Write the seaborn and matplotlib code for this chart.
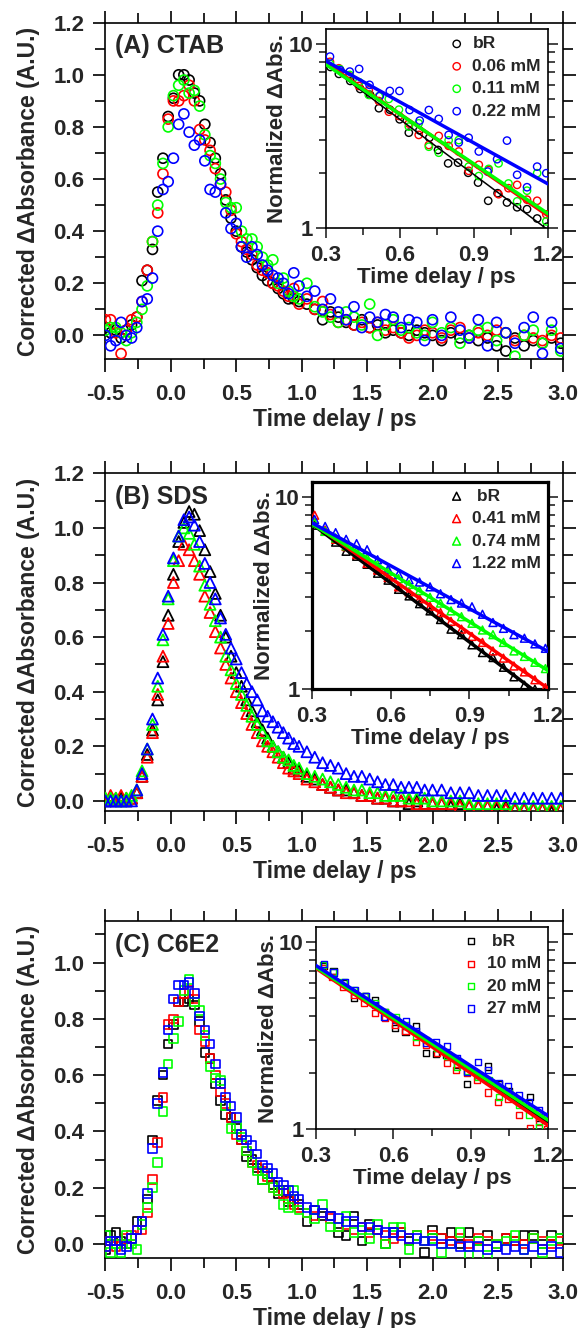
import numpy as np
import pandas as pd
import seaborn as sns
import matplotlib.pyplot as plt
from matplotlib.ticker import MultipleLocator, FixedLocator, NullFormatter

sns.set_style('ticks')
plt.rcParams['font.family'] = ['Liberation Sans', 'DejaVu Sans']
plt.rcParams['font.weight'] = 'bold'
plt.rcParams['axes.labelweight'] = 'bold'
plt.rcParams['axes.unicode_minus'] = False

colors = ['#000000', '#ff0000', '#00ff00', '#0000ff']

# time axis shared by the three main panels (ps)
t_delay = [-0.50, -0.46, -0.42, -0.38, -0.34, -0.30, -0.26, -0.22, -0.18, -0.14,
           -0.10, -0.06, -0.02, 0.02, 0.06, 0.10, 0.14, 0.18, 0.22, 0.26,
           0.30, 0.34, 0.38, 0.42, 0.46, 0.50, 0.54, 0.58, 0.62, 0.66,
           0.70, 0.74, 0.78, 0.82, 0.86, 0.90, 0.94, 0.98, 1.04, 1.10,
           1.16, 1.22, 1.28, 1.34, 1.40, 1.46, 1.52, 1.58, 1.64, 1.70,
           1.76, 1.82, 1.88, 1.94, 2.00, 2.07, 2.14, 2.21, 2.28, 2.35,
           2.42, 2.49, 2.56, 2.63, 2.70, 2.77, 2.84, 2.91, 2.98]

# (A) CTAB
ctab_labels = ['bR', '0.06 mM', '0.11 mM', '0.22 mM']
ctab_bR = [0.03, 0.01, 0.02, -0.01, 0.02, 0.04, 0.07, 0.21, 0.25, 0.33,
           0.55, 0.68, 0.84, 0.91, 1.00, 1.00, 0.98, 0.93, 0.90, 0.81,
           0.74, 0.68, 0.62, 0.52, 0.45, 0.40, 0.34, 0.32, 0.29, 0.26,
           0.23, 0.21, 0.20, 0.18, 0.16, 0.14, 0.14, 0.13, 0.12, 0.10,
           0.06, 0.09, 0.07, 0.05, 0.04, 0.06, 0.03, 0.04, 0.01, 0.02,
           0.01, 0.00, 0.02, 0.01, 0.00, -0.02, 0.01, -0.01, 0.00, -0.02,
           -0.01, -0.04, -0.06, -0.01, -0.04, -0.02, -0.03, -0.01, -0.03]
ctab_006 = [0.06, 0.06, 0.01, -0.07, 0.02, 0.06, 0.07, 0.13, 0.25, 0.36,
            0.47, 0.62, 0.83, 0.90, 0.90, 0.92, 0.96, 0.90, 0.79, 0.75,
            0.71, 0.64, 0.58, 0.55, 0.48, 0.39, 0.36, 0.33, 0.31, 0.27,
            0.25, 0.24, 0.20, 0.19, 0.17, 0.15, 0.18, 0.12, 0.14, 0.10,
            0.13, 0.08, 0.05, 0.06, 0.04, 0.05, 0.03, 0.05, 0.02, 0.03,
            0.01, -0.01, 0.00, 0.02, 0.01, -0.01, 0.02, 0.03, -0.01, 0.01,
            0.00, 0.02, 0.01, -0.02, 0.00, -0.01, -0.02, 0.00, -0.01]
ctab_011 = [0.02, 0.03, 0.03, 0.01, -0.02, 0.01, 0.05, 0.10, 0.19, 0.36,
            0.50, 0.66, 0.80, 0.92, 0.96, 0.98, 0.93, 0.94, 0.88, 0.77,
            0.69, 0.66, 0.60, 0.51, 0.49, 0.49, 0.40, 0.37, 0.37, 0.34,
            0.30, 0.27, 0.29, 0.20, 0.22, 0.17, 0.15, 0.14, 0.20, 0.11,
            0.09, 0.07, 0.05, 0.09, 0.07, 0.04, 0.12, 0.00, 0.04, 0.06,
            0.02, 0.03, 0.01, 0.00, 0.05, 0.01, 0.03, -0.03, 0.00, 0.02,
            0.03, -0.02, 0.01, -0.08, 0.00, 0.02, -0.03, 0.02, -0.06]
ctab_022 = [0.00, -0.04, -0.02, 0.05, 0.00, -0.01, 0.03, 0.13, 0.14, 0.22,
            0.40, 0.56, 0.59, 0.68, 0.81, 0.85, 0.78, 0.73, 0.75, 0.67,
            0.56, 0.55, 0.58, 0.47, 0.41, 0.43, 0.34, 0.30, 0.34, 0.31,
            0.27, 0.25, 0.23, 0.22, 0.20, 0.16, 0.24, 0.19, 0.15, 0.17,
            0.10, 0.14, 0.09, 0.06, 0.11, 0.03, 0.07, 0.05, 0.08, 0.07,
            0.03, 0.06, 0.05, -0.02, 0.06, 0.00, 0.07, 0.02, -0.01, 0.06,
            -0.04, 0.05, 0.01, -0.03, 0.03, 0.07, -0.07, 0.05, -0.05]

# (A) inset, log scale
ctab_in_t_bR = [0.32, 0.354, 0.40, 0.44, 0.48, 0.516, 0.56, 0.60, 0.637, 0.68, 0.72, 0.755,
                0.796, 0.836, 0.877, 0.917, 0.958, 0.996, 1.034, 1.075, 1.115, 1.156, 1.196]
ctab_in_bR = [7.5, 6.88, 6.3, 5.7, 5.3, 4.48, 4.4, 3.9, 3.30, 3.4, 3.1, 2.66,
              2.25, 2.27, 2.0, 1.77, 1.41, 1.55, 1.38, 1.3, 1.27, 1.13, 1.02]
ctab_in_t_006 = [0.318, 0.354, 0.395, 0.435, 0.475, 0.516, 0.556, 0.597, 0.637, 0.677, 0.718, 0.758,
                 0.798, 0.839, 0.879, 0.92, 0.96, 1.0, 1.04, 1.075, 1.115, 1.156, 1.193]
ctab_in_006 = [8.0, 7.38, 6.7, 5.92, 5.6, 4.9, 4.29, 4.07, 3.7, 3.21, 2.83, 3.17,
               2.8, 2.61, 2.05, 2.21, 2.07, 1.53, 1.65, 1.72, 1.43, 1.41, 1.19]
ctab_in_t_011 = [0.318, 0.358, 0.398, 0.436, 0.475, 0.516, 0.556, 0.597, 0.637, 0.677, 0.718, 0.758,
                 0.798, 0.839, 0.879, 0.92, 0.96, 1.0, 1.04, 1.075, 1.115, 1.156, 1.193]
ctab_in_011 = [7.8, 7.3, 6.79, 6.2, 5.29, 5.2, 5.03, 4.4, 3.56, 3.71, 2.77, 2.57,
               3.0, 3.01, 2.16, 1.92, 2.1, 2.25, 1.75, 1.40, 1.6, 1.99, 1.09]
ctab_in_t_022 = [0.318, 0.36, 0.398, 0.436, 0.478, 0.52, 0.56, 0.599, 0.64, 0.681, 0.718, 0.758,
                 0.798, 0.839, 0.879, 0.92, 0.956, 0.994, 1.034, 1.075, 1.115, 1.156, 1.193]
ctab_in_022 = [8.54, 7.2, 7.08, 7.32, 6.0, 5.23, 5.56, 5.56, 4.38, 3.84, 4.38, 3.92,
               3.21, 2.92, 3.1, 2.61, 2.03, 2.37, 2.99, 1.95, 1.67, 2.16, 1.99]
fit_t = [0.3, 1.2]
ctab_fit_start = [7.8, 7.9, 7.76, 8.1]
ctab_fit_end = [0.98, 1.17, 1.2, 1.74]

# (B) SDS
sds_labels = [' bR', '0.41 mM', '0.74 mM', '1.22 mM']
sds_bR = [0.00, 0.01, 0.00, 0.01, 0.00, 0.01, 0.03, 0.09, 0.17, 0.26,
          0.37, 0.51, 0.68, 0.83, 0.95, 1.02, 1.06, 1.05, 0.99, 0.92,
          0.84, 0.76, 0.68, 0.60, 0.53, 0.47, 0.42, 0.37, 0.33, 0.29,
          0.26, 0.23, 0.20, 0.18, 0.16, 0.14, 0.12, 0.11, 0.09, 0.08,
          0.06, 0.05, 0.04, 0.04, 0.03, 0.02, 0.02, 0.01, 0.01, 0.00,
          0.00, -0.01, 0.00, -0.01, -0.01, -0.01, -0.02, -0.01, -0.02, -0.02,
          -0.02, -0.03, -0.02, -0.03, -0.03, -0.03, -0.03, -0.04, -0.03]
sds_041 = [0.01, 0.02, 0.01, 0.02, 0.01, 0.01, 0.03, 0.09, 0.16, 0.25,
           0.39, 0.53, 0.65, 0.80, 0.88, 0.94, 0.92, 0.88, 0.83, 0.75,
           0.69, 0.62, 0.56, 0.50, 0.45, 0.40, 0.36, 0.32, 0.28, 0.25,
           0.22, 0.20, 0.18, 0.16, 0.14, 0.12, 0.11, 0.10, 0.08, 0.07,
           0.06, 0.05, 0.04, 0.03, 0.03, 0.02, 0.02, 0.01, 0.01, 0.00,
           0.00, 0.00, -0.01, -0.01, -0.01, -0.01, -0.01, -0.02, -0.02, -0.02,
           -0.02, -0.02, -0.03, -0.03, -0.03, -0.03, -0.03, -0.03, -0.03]
sds_074 = [0.01, 0.01, 0.01, 0.00, 0.01, 0.02, 0.04, 0.11, 0.19, 0.28,
           0.42, 0.59, 0.74, 0.88, 0.97, 1.00, 0.98, 0.94, 0.86, 0.79,
           0.72, 0.66, 0.60, 0.53, 0.48, 0.43, 0.39, 0.35, 0.31, 0.28,
           0.25, 0.22, 0.20, 0.18, 0.16, 0.15, 0.13, 0.12, 0.10, 0.09,
           0.08, 0.07, 0.06, 0.05, 0.04, 0.04, 0.03, 0.03, 0.02, 0.02,
           0.02, 0.01, 0.01, 0.01, 0.00, 0.00, 0.00, 0.00, -0.01, -0.01,
           -0.01, -0.01, -0.01, -0.02, -0.02, -0.02, -0.02, -0.02, -0.02]
sds_122 = [0.00, 0.00, 0.00, 0.00, 0.00, 0.00, 0.04, 0.10, 0.19, 0.30,
           0.45, 0.61, 0.75, 0.89, 0.97, 1.03, 1.04, 1.01, 0.95, 0.87,
           0.80, 0.74, 0.67, 0.61, 0.56, 0.52, 0.47, 0.43, 0.40, 0.37,
           0.33, 0.31, 0.29, 0.27, 0.25, 0.23, 0.21, 0.20, 0.18, 0.16,
           0.14, 0.13, 0.12, 0.10, 0.09, 0.09, 0.08, 0.07, 0.06, 0.06,
           0.05, 0.05, 0.05, 0.04, 0.04, 0.04, 0.03, 0.03, 0.03, 0.02,
           0.02, 0.02, 0.02, 0.01, 0.01, 0.01, 0.01, 0.01, 0.01]

# (B) inset
sds_in_t = [0.31, 0.35, 0.39, 0.43, 0.47, 0.51, 0.55, 0.59, 0.63, 0.67, 0.71, 0.75,
            0.79, 0.83, 0.87, 0.91, 0.95, 0.99, 1.03, 1.07, 1.11, 1.15, 1.19]
sds_in_bR = [7.1, 6.6, 5.8, 5.2, 4.9, 4.45, 4.0, 3.68, 3.3, 3.05, 2.78, 2.55,
             2.3, 2.05, 1.92, 1.70, 1.55, 1.46, 1.30, 1.16, 1.05, 1.0, 0.9]
sds_in_041 = [8.0, 6.7, 6.0, 5.5, 5.0, 4.5, 4.15, 3.8, 3.4, 3.2, 2.95, 2.7,
              2.5, 2.25, 2.05, 1.88, 1.75, 1.58, 1.45, 1.32, 1.23, 1.12, 1.02]
sds_in_074 = [7.3, 6.6, 6.1, 5.55, 5.2, 4.8, 4.45, 4.1, 3.75, 3.5, 3.25, 3.0,
              2.8, 2.55, 2.38, 2.2, 2.03, 1.92, 1.75, 1.58, 1.48, 1.38, 1.28]
sds_in_122 = [7.6, 7.0, 6.5, 6.0, 5.7, 5.3, 4.7, 4.2, 3.95, 3.7, 3.6, 3.4,
              3.13, 2.92, 2.8, 2.68, 2.45, 2.22, 2.07, 1.92, 1.84, 1.72, 1.63]
sds_fit_start = [7.2, 7.3, 7.2, 7.3]
sds_fit_end = [0.87, 1.01, 1.25, 1.57]

# (C) C6E2
c6e2_labels = [' bR', '10 mM', '20 mM', '27 mM']
c6e2_bR = [-0.02, 0.03, 0.04, 0.01, 0.00, 0.02, 0.08, 0.08, 0.16, 0.37,
           0.51, 0.60, 0.71, 0.78, 0.86, 0.86, 0.87, 0.85, 0.79, 0.68,
           0.66, 0.57, 0.51, 0.46, 0.45, 0.41, 0.37, 0.31, 0.30, 0.27,
           0.23, 0.25, 0.21, 0.18, 0.19, 0.15, 0.16, 0.14, 0.08, 0.12,
           0.10, 0.10, 0.04, 0.03, 0.10, 0.01, 0.07, 0.05, 0.00, 0.04,
           0.04, 0.01, 0.03, -0.03, 0.05, 0.02, 0.04, 0.00, 0.04, 0.01,
           0.03, -0.01, 0.02, 0.01, 0.03, 0.03, 0.00, 0.03, 0.02]
c6e2_10 = [-0.01, 0.01, -0.01, 0.00, 0.02, 0.03, 0.05, 0.05, 0.11, 0.23,
           0.36, 0.52, 0.78, 0.80, 0.86, 0.89, 0.90, 0.87, 0.76, 0.72,
           0.66, 0.60, 0.54, 0.50, 0.45, 0.39, 0.37, 0.33, 0.29, 0.28,
           0.26, 0.24, 0.20, 0.19, 0.18, 0.16, 0.14, 0.13, 0.11, 0.10,
           0.11, 0.09, 0.06, 0.07, 0.05, 0.06, 0.04, 0.05, 0.03, 0.02,
           0.04, 0.02, 0.03, 0.01, 0.03, 0.02, 0.01, 0.02, 0.00, 0.02,
           0.01, 0.00, 0.02, 0.01, 0.00, 0.02, 0.01, 0.00, 0.01]
c6e2_20 = [0.03, -0.03, 0.00, -0.03, 0.03, 0.00, -0.02, 0.07, 0.13, 0.20,
           0.29, 0.47, 0.64, 0.73, 0.79, 0.90, 0.94, 0.86, 0.83, 0.74,
           0.63, 0.59, 0.58, 0.49, 0.41, 0.42, 0.38, 0.33, 0.29, 0.26,
           0.23, 0.25, 0.20, 0.19, 0.14, 0.13, 0.19, 0.12, 0.11, 0.09,
           0.14, 0.06, 0.06, 0.10, 0.04, 0.05, 0.02, 0.07, 0.00, 0.06,
           0.06, -0.02, 0.03, 0.01, 0.02, -0.03, 0.00, 0.04, -0.04, 0.01,
           -0.04, 0.00, 0.01, 0.03, -0.02, 0.02, -0.03, 0.01, 0.02]
c6e2_27 = [-0.01, 0.01, 0.01, -0.02, -0.01, 0.02, 0.05, 0.08, 0.18, 0.34,
           0.50, 0.61, 0.76, 0.87, 0.92, 0.92, 0.93, 0.89, 0.81, 0.76,
           0.71, 0.64, 0.57, 0.52, 0.49, 0.45, 0.39, 0.37, 0.35, 0.32,
           0.28, 0.27, 0.25, 0.22, 0.21, 0.19, 0.17, 0.16, 0.13, 0.12,
           0.11, 0.10, 0.09, 0.08, 0.08, 0.06, 0.06, 0.05, 0.04, 0.04,
           0.03, 0.02, 0.02, 0.01, 0.01, 0.00, 0.00, -0.01, -0.01, -0.01,
           -0.02, -0.01, -0.02, -0.01, -0.02, -0.01, -0.02, -0.01, -0.03]

# (C) inset
c6e2_in_t_bR = [0.33, 0.368, 0.41, 0.448, 0.49, 0.528, 0.568, 0.606, 0.647, 0.687, 0.728,
                0.764, 0.806, 0.847, 0.887, 0.928, 0.967, 1.008, 1.048, 1.087, 1.129, 1.166]
c6e2_in_bR = [7.4, 7.0, 6.0, 5.03, 5.1, 4.89, 4.2, 3.45, 3.3, 3.53, 2.56,
              2.52, 2.5, 2.2, 1.74, 1.95, 2.16, 1.75, 1.6, 1.4, 1.48, 1.15]
c6e2_in_t_10 = [0.326, 0.364, 0.407, 0.447, 0.487, 0.528, 0.568, 0.606, 0.647, 0.687, 0.728, 0.768,
                0.807, 0.844, 0.885, 0.925, 0.967, 1.005, 1.046, 1.087, 1.129, 1.164, 1.196]
c6e2_in_10 = [7.2, 6.45, 5.71, 5.2, 4.69, 4.18, 3.9, 3.6, 3.35, 2.93, 2.8, 2.55,
              2.25, 2.07, 2.0, 1.83, 1.57, 1.4, 1.45, 1.19, 1.02, 1.1, 1.0]
c6e2_in_t_20 = [0.326, 0.366, 0.407, 0.448, 0.49, 0.528, 0.568, 0.609, 0.648, 0.687, 0.728,
                0.768, 0.808, 0.848, 0.888, 0.928, 0.971, 1.009, 1.048, 1.087, 1.125, 1.164]
c6e2_in_20 = [7.5, 6.9, 6.1, 5.5, 5.1, 4.7, 4.2, 3.95, 3.6, 3.12, 3.0,
              2.7, 2.45, 2.16, 2.05, 1.9, 1.83, 1.49, 1.55, 1.35, 1.19, 1.03]
c6e2_in_t_27 = [0.33, 0.368, 0.412, 0.451, 0.493, 0.528, 0.564, 0.609, 0.648, 0.687, 0.726, 0.764,
                0.809, 0.848, 0.887, 0.928, 0.967, 1.009, 1.044, 1.087, 1.127, 1.166, 1.196]
c6e2_in_27 = [7.6, 6.84, 6.05, 5.48, 5.13, 4.6, 3.98, 3.83, 3.79, 3.35, 2.87, 2.9,
              2.78, 2.4, 2.03, 2.29, 2.07, 1.76, 1.69, 1.52, 1.4, 1.26, 1.18]
c6e2_fit_start = [7.3, 7.2, 7.3, 7.45]
c6e2_fit_end = [1.08, 1.05, 1.12, 1.18]

fig = plt.figure(figsize=(5.79, 13.28), dpi=100)


def draw_main(rect, series, marker, size, edge_w, ylim, title):
    ax = fig.add_axes(rect)
    for vals, col in zip(series, colors):
        sns.scatterplot(x=t_delay, y=vals, ax=ax, marker=marker, s=size,
                        facecolor='none', edgecolor=col, linewidth=edge_w,
                        legend=False, zorder=3)
    ax.set_xlim(-0.5, 3.0)
    ax.set_ylim(*ylim)
    ax.xaxis.set_major_locator(MultipleLocator(0.5))
    ax.xaxis.set_minor_locator(MultipleLocator(0.25))
    ax.yaxis.set_major_locator(MultipleLocator(0.2))
    ax.yaxis.set_minor_locator(MultipleLocator(0.1))
    ax.xaxis.set_major_formatter('{x:.1f}')
    ax.yaxis.set_major_formatter('{x:.1f}')
    ax.tick_params(which='both', direction='out', top=True, right=True,
                   width=1.2, labelsize=16, color='black')
    ax.tick_params(which='major', length=9)
    ax.tick_params(which='minor', length=7)
    ax.tick_params(axis='x', pad=9)
    ax.tick_params(axis='y', pad=6)
    for sp in ax.spines.values():
        sp.set_linewidth(1.2)
        sp.set_color('black')
    ax.set_xlabel('Time delay / ps', fontsize=16.5, labelpad=2)
    ax.set_ylabel('Corrected \u0394Absorbance (A.U.)', fontsize=16.5, labelpad=10)
    ax.text(0.02, 0.965, title, transform=ax.transAxes, fontsize=18,
            fontweight='bold', va='top', ha='left')
    return ax


def draw_inset(rect, xs, ys, labels, marker, size, edge_w, fit_start, fit_end,
               fit_w, frame_w, ytop):
    ax = fig.add_axes(rect)
    ax.set_facecolor('white')
    ax.set_yscale('log')
    for x, y, lab, col in zip(xs, ys, labels, colors):
        sns.scatterplot(x=x, y=y, ax=ax, marker=marker, s=size, facecolor='none',
                        edgecolor=col, linewidth=edge_w, label=lab, zorder=3)
    for y0, y1, col, lw in zip(fit_start, fit_end, colors, fit_w):
        sns.lineplot(x=fit_t, y=[y0, y1], ax=ax, color=col, lw=lw,
                     estimator=None, legend=False, zorder=4)
    ax.set_xlim(0.3, 1.2)
    ax.set_ylim(1, ytop)
    ax.xaxis.set_major_locator(FixedLocator([0.3, 0.6, 0.9, 1.2]))
    ax.xaxis.set_minor_locator(FixedLocator([0.45, 0.75, 1.05]))
    ax.xaxis.set_major_formatter('{x:.1f}')
    ax.yaxis.set_major_locator(FixedLocator([1, 10]))
    ax.yaxis.set_major_formatter('{x:.0f}')
    ax.yaxis.set_minor_locator(FixedLocator([2, 3, 4, 5, 6, 7, 8, 9]))
    ax.yaxis.set_minor_formatter(NullFormatter())
    ax.tick_params(which='both', direction='out', width=1.2, labelsize=16)
    ax.tick_params(axis='y', which='both', right=True)
    ax.tick_params(which='major', length=7)
    ax.tick_params(which='minor', length=5)
    ax.tick_params(axis='x', pad=5)
    ax.tick_params(axis='y', pad=2)
    for sp in ax.spines.values():
        sp.set_linewidth(frame_w)
        sp.set_color('black')
    ax.set_xlabel('Time delay / ps', fontsize=16, labelpad=1)
    ax.set_ylabel('Normalized \u0394Abs.', fontsize=16, labelpad=0)
    ax.legend(loc='upper right', frameon=False, handletextpad=0.3,
              labelspacing=0.42, borderpad=0.1, borderaxespad=0.3, handlelength=1.2,
              prop={'weight': 'bold', 'size': 12.5})
    return ax


# panel A
draw_main([0.182, 0.7294, 0.791, 0.2535], [ctab_bR, ctab_006, ctab_011, ctab_022],
          'o', 52, 1.2, (-0.092, 1.2), '(A) CTAB')
draw_inset([0.5622, 0.8281, 0.3843, 0.1498],
           [ctab_in_t_bR, ctab_in_t_006, ctab_in_t_011, ctab_in_t_022],
           [ctab_in_bR, ctab_in_006, ctab_in_011, ctab_in_022], ctab_labels,
           'o', 28, 1.0, ctab_fit_start, ctab_fit_end, [1.1, 2.5, 2.5, 2.5], 1.2, 12.0)

# panel B
draw_main([0.182, 0.3893, 0.791, 0.2543], [sds_bR, sds_041, sds_074, sds_122],
          '^', 62, 1.3, (-0.037, 1.2), '(B) SDS')
draw_inset([0.5389, 0.4810, 0.4076, 0.1563], [sds_in_t] * 4,
           [sds_in_bR, sds_in_041, sds_in_074, sds_in_122], sds_labels,
           '^', 32, 1.1, sds_fit_start, sds_fit_end, [2.5, 2.5, 2.5, 2.5], 2.3, 11.95)

# panel C
draw_main([0.182, 0.0525, 0.791, 0.2542], [c6e2_bR, c6e2_10, c6e2_20, c6e2_27],
          's', 38, 1.2, (-0.051, 1.149), '(C) C6E2')
draw_inset([0.5458, 0.1496, 0.4007, 0.1526],
           [c6e2_in_t_bR, c6e2_in_t_10, c6e2_in_t_20, c6e2_in_t_27],
           [c6e2_in_bR, c6e2_in_10, c6e2_in_20, c6e2_in_27], c6e2_labels,
           's', 20, 1.0, c6e2_fit_start, c6e2_fit_end, [2.5, 2.5, 2.5, 2.5], 1.2, 12.0)

fig.savefig('out.png', dpi=100)
